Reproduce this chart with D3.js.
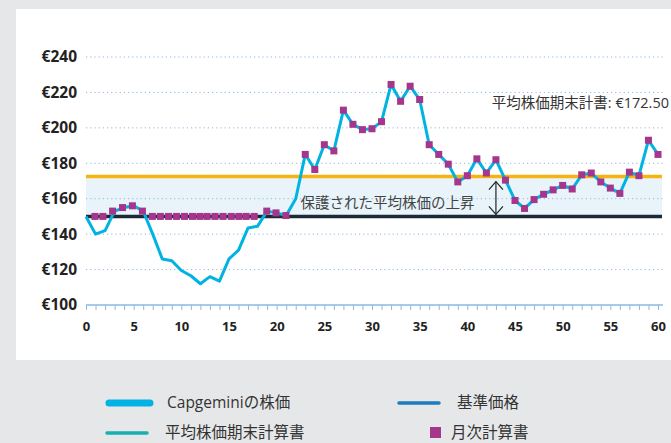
<!DOCTYPE html>
<html>
<head>
<meta charset="utf-8">
<script src="https://cdn.jsdelivr.net/npm/d3@7"></script>
<style>
  body { margin: 0; background: #e6e7e9; }
  svg { display: block; font-family: "Open Sans", "Noto Sans CJK JP", sans-serif; }
</style>
</head>
<body>
<svg></svg>
<script>
// chart values
const months = d3.range(0, 61);
const price = [150, 140, 142, 153, 155, 156, 153, 140, 126, 125, 119.5, 116.5, 112, 116, 113.5,
  126, 131, 143.5, 144.5, 153, 152, 150.5, 160, 185, 176.5, 190.5, 187, 210, 202, 199, 199.5,
  203.5, 224.5, 215, 223.5, 216, 190.5, 185, 179.5, 169.5, 173, 182.5, 174.5, 182, 170.5, 159,
  154.5, 159.5, 162.5, 165, 167.5, 165.5, 173.5, 174.5, 169.5, 166, 163, 175, 173, 193, 185];

const markerT = [0.94, 1.77, 2.79, 3.83, 4.87, 5.92, 6.96, 7.8, 8.66, 9.5, 10.33, 11.17, 11.95,
  12.7, 13.53, 14.37, 15.24, 16.04, 16.8, 17.64, 18.96, 19.93, 20.97,
  23, 24, 25, 26, 27, 28, 29, 30, 31, 32, 33, 34, 35, 36, 37, 38, 39, 40, 41, 42, 43, 44, 45,
  46, 47, 48, 49, 50, 51, 52, 53, 54, 55, 56, 57, 58, 59, 60];
const markerV = [150, 150, 153, 155, 156, 153, 150, 150, 150, 150, 150, 150, 150, 150, 150, 150,
  150, 150, 150, 150, 153, 152, 150.5,
  185, 176.5, 190.5, 187, 210, 202, 199, 199.5, 203.5, 224.5, 215, 223.5, 216, 190.5, 185,
  179.5, 169.5, 173, 182.5, 174.5, 182, 170.5, 159, 154.5, 159.5, 162.5, 165, 167.5, 165.5,
  173.5, 174.5, 169.5, 166, 163, 175, 173, 193, 185];

const basePrice = 150;
const avgPrice = 172.5;
const yTicks = [100, 120, 140, 160, 180, 200, 220, 240];
const xLabels = [0, 5, 10, 15, 20, 25, 30, 35, 40, 45, 50, 55, 60];
const arrowT = 43;

const size = {w: 671, h: 443};
const svg = d3.select('svg').attr('width', size.w).attr('height', size.h);

// white panel
svg.append('rect')
    .attr('x', 16).attr('y', 9)
    .attr('width', size.w - 16).attr('height', 351)
    .attr('fill', '#fff');

const x = d3.scaleLinear().domain([0, 60]).range([86, 658]);
const y = d3.scaleLinear().domain([100, 240]).range([305, 57]);

// protected band
svg.append('rect')
    .attr('x', x(0)).attr('y', y(avgPrice))
    .attr('width', x(60) - x(0) + 4)
    .attr('height', y(basePrice) - y(avgPrice))
    .attr('fill', '#e8f4fa');

// grid lines
svg.append('g').selectAll('line')
    .data(yTicks.filter(d => d > 100))
    .join('line')
    .attr('x1', x(0)).attr('x2', x(60) + 5)
    .attr('y1', d => y(d)).attr('y2', d => y(d))
    .attr('stroke', '#8db9e2')
    .attr('stroke-width', 1)
    .attr('stroke-dasharray', '1.2,3');

// y axis labels
const yAxis = svg.append('g')
    .attr('transform', 'translate(80,0)')
    .call(d3.axisLeft(y).tickValues(yTicks).tickSize(0).tickPadding(3).tickFormat(d => '€' + d));
yAxis.select('.domain').remove();
yAxis.selectAll('text')
    .attr('font-size', 15.5).attr('font-weight', 700)
    .attr('font-family', '"Open Sans", sans-serif')
    .attr('fill', '#222');

// x axis
const xAxis = svg.append('g')
    .attr('transform', 'translate(0,' + y(100) + ')')
    .call(d3.axisBottom(x).tickValues(months).tickSizeInner(5).tickSizeOuter(0)
        .tickFormat(d => xLabels.includes(d) ? d : ''));
xAxis.select('.domain').attr('stroke', '#8db9e2').attr('stroke-width', 1.5)
    .attr('d', 'M' + x(0) + ',0H' + (x(60) + 5));
xAxis.selectAll('.tick line').attr('stroke', '#8db9e2');
xAxis.selectAll('text')
    .attr('y', 17)
    .attr('font-size', 13).attr('font-weight', 700)
    .attr('font-family', '"Open Sans", sans-serif')
    .attr('fill', '#222');

// reference lines
svg.append('line')
    .attr('x1', x(0)).attr('x2', x(60) + 4)
    .attr('y1', y(avgPrice)).attr('y2', y(avgPrice))
    .attr('stroke', '#f6b410').attr('stroke-width', 3.5);
svg.append('line')
    .attr('x1', x(0)).attr('x2', x(60) + 4)
    .attr('y1', y(basePrice)).attr('y2', y(basePrice))
    .attr('stroke', '#1c2a38').attr('stroke-width', 3.5);

// share price line
const line = d3.line().x((d, i) => x(months[i])).y(d => y(d));
svg.append('path')
    .datum(price)
    .attr('d', line)
    .attr('fill', 'none')
    .attr('stroke', '#00b3e3')
    .attr('stroke-width', 3)
    .attr('stroke-linejoin', 'round');

// monthly markers
const ms = 7;
svg.append('g').selectAll('rect')
    .data(markerV)
    .join('rect')
    .attr('x', (d, i) => x(markerT[i]) - ms / 2)
    .attr('y', d => y(d) - ms / 2)
    .attr('width', ms).attr('height', ms)
    .attr('fill', '#a4378c');

// annotations
svg.append('text')
    .attr('x', x(22.5)).attr('y', y(155))
    .attr('font-size', 14.5).attr('fill', '#444')
    .text('保護された平均株価の上昇');

const ax = x(arrowT);
const a1 = y(avgPrice) + 5, a2 = y(basePrice) - 2;
const arrow = svg.append('g').attr('stroke', '#222').attr('stroke-width', 1.2).attr('fill', 'none');
arrow.append('line').attr('x1', ax).attr('x2', ax).attr('y1', a1).attr('y2', a2);
arrow.append('path').attr('d', `M${ax - 7},${a1 + 8}L${ax},${a1}L${ax + 7},${a1 + 8}`);
arrow.append('path').attr('d', `M${ax - 7},${a2 - 8}L${ax},${a2}L${ax + 7},${a2 - 8}`);

svg.append('text')
    .attr('x', 669).attr('y', y(211))
    .attr('text-anchor', 'end')
    .attr('font-size', 14.5).attr('fill', '#333')
    .text('平均株価期末計書: €172.50');

// legend
const lg = svg.append('g').attr('font-size', 15.5).attr('fill', '#333');
lg.append('line').attr('x1', 109).attr('x2', 150).attr('y1', 403).attr('y2', 403)
    .attr('stroke', '#00b3e3').attr('stroke-width', 7).attr('stroke-linecap', 'round');
lg.append('text').attr('x', 167).attr('y', 408).text('Capgeminiの株価');
lg.append('line').attr('x1', 399).attr('x2', 439).attr('y1', 403).attr('y2', 403)
    .attr('stroke', '#1b7dbd').attr('stroke-width', 3.5).attr('stroke-linecap', 'round');
lg.append('text').attr('x', 457).attr('y', 408).text('基準価格');
lg.append('line').attr('x1', 107).attr('x2', 147).attr('y1', 433).attr('y2', 433)
    .attr('stroke', '#17b0b0').attr('stroke-width', 3.5).attr('stroke-linecap', 'round');
lg.append('text').attr('x', 165).attr('y', 438).text('平均株価期末計算書');
lg.append('rect').attr('x', 430).attr('y', 427).attr('width', 11).attr('height', 11)
    .attr('fill', '#a4378c');
lg.append('text').attr('x', 451).attr('y', 438).text('月次計算書');
</script>
</body>
</html>
